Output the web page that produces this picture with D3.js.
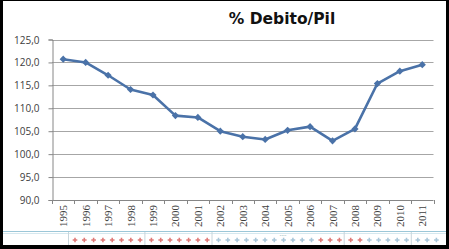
<!DOCTYPE html>
<html>
<head>
<meta charset="utf-8">
<title>% Debito/Pil</title>
<style>
body {
  margin: 0;
  background: #000;
}

svg {
  display: block;
}

.y.axis text {
  font: 10px "Open Sans", sans-serif;
  fill: #404040;
}

.x-label {
  font: 11px "Liberation Serif", serif;
  fill: #404040;
}

.title {
  font: bold 15.5px "DejaVu Sans", sans-serif;
  fill: #111;
}
</style>
<script src="https://d3js.org/d3.v7.min.js"></script>
</head>
<body>
<script>
const years = ['1995', '1996', '1997', '1998', '1999', '2000', '2001', '2002', '2003',
  '2004', '2005', '2006', '2007', '2008', '2009', '2010', '2011'];
const debt = [120.7, 120.0, 117.2, 114.1, 112.9, 108.4, 108.0, 105.0, 103.8,
  103.2, 105.2, 106.0, 102.9, 105.5, 115.4, 118.1, 119.5];
const yTicks = [90, 95, 100, 105, 110, 115, 120, 125];
// row of little marks under the chart, r = red, b = blue
const stripGroups = ['rrrrrrrr', 'rrrrrrr', 'bbbbbbbbbbbrrr', 'rrbbbbb', 'bbb'];

const width = 449,
  height = 249;

const svg = d3.select('body').append('svg')
  .attr('width', width)
  .attr('height', height);

// white sheet inside the black frame
svg.append('rect')
  .attr('x', 3)
  .attr('y', 1)
  .attr('width', 443)
  .attr('height', 244)
  .attr('fill', '#fff');

const x = d3.scaleBand()
  .domain(years)
  .range([52, 433.5]);

const y = d3.scaleLinear()
  .domain([90, 125])
  .range([200, 39.5]);

svg.append('text')
  .attr('class', 'title')
  .attr('x', 282)
  .attr('y', 24)
  .attr('text-anchor', 'middle')
  .text('% Debito/Pil');

// gridlines
svg.append('g')
  .selectAll('line')
  .data(yTicks.slice(1))
  .enter().append('line')
    .attr('x1', 52)
    .attr('x2', 433.5)
    .attr('y1', d => Math.round(y(d)) + 0.5)
    .attr('y2', d => Math.round(y(d)) + 0.5)
    .attr('stroke', '#a6a6a6');

const yAxis = svg.append('g')
  .attr('class', 'y axis')
  .attr('transform', 'translate(52.5,0)')
  .call(d3.axisLeft(y)
    .tickValues(yTicks)
    .tickSize(4)
    .tickPadding(9)
    .tickFormat(d => d3.format('.1f')(d).replace('.', ',')));
yAxis.selectAll('line, path').attr('stroke', '#868686');
yAxis.selectAll('text').attr('dy', '0.35em');

// x axis: baseline, ticks between categories, rotated labels
const xAxis = svg.append('g').attr('class', 'x axis');
xAxis.append('line')
  .attr('x1', 52)
  .attr('x2', 433.5)
  .attr('y1', 200.5)
  .attr('y2', 200.5)
  .attr('stroke', '#868686');

xAxis.selectAll('line.tick')
  .data(years.concat(['end']))
  .enter().append('line')
    .attr('class', 'tick')
    .attr('x1', d => Math.round(d === 'end' ? x.range()[1] : x(d)) + 0.5)
    .attr('x2', d => Math.round(d === 'end' ? x.range()[1] : x(d)) + 0.5)
    .attr('y1', 200)
    .attr('y2', 204)
    .attr('stroke', '#868686');

xAxis.selectAll('text')
  .data(years)
  .enter().append('text')
    .attr('class', 'x-label')
    .attr('transform', d => 'translate(' + (x(d) + x.bandwidth() / 2 + 4) + ',205) rotate(-90)')
    .attr('text-anchor', 'end')
    .text(d => d);

// data line
const line = d3.line()
  .x((d, i) => x(years[i]) + x.bandwidth() / 2)
  .y(d => y(d));

svg.append('path')
  .datum(debt)
  .attr('fill', 'none')
  .attr('stroke', '#4a72a8')
  .attr('stroke-width', 2.6)
  .attr('stroke-linejoin', 'round')
  .attr('d', line);

svg.append('g')
  .selectAll('path')
  .data(debt)
  .enter().append('path')
    .attr('transform', (d, i) => 'translate(' + (x(years[i]) + x.bandwidth() / 2) + ',' + y(d) + ')')
    .attr('d', d3.symbol(d3.symbolSquare, 26))
    .attr('transform', (d, i) => 'translate(' + (x(years[i]) + x.bandwidth() / 2) + ',' + y(d) + ') rotate(45)')
    .attr('fill', '#4a72a8');

// bottom strip
const strip = svg.append('g');
strip.append('line')
  .attr('x1', 3)
  .attr('x2', 446)
  .attr('y1', 231.5)
  .attr('y2', 231.5)
  .attr('stroke', '#9cc7d8');
strip.append('line')
  .attr('x1', 3)
  .attr('x2', 446)
  .attr('y1', 233.5)
  .attr('y2', 233.5)
  .attr('stroke', '#d5e8ef');

const step = 9.3;
let start = 68;
stripGroups.forEach(group => {
  strip.append('line')
    .attr('x1', start + 0.5)
    .attr('x2', start + 0.5)
    .attr('y1', 232)
    .attr('y2', 245)
    .attr('stroke', '#c8d6dc');
  group.split('').forEach((c, i) => {
    strip.append('path')
      .attr('transform', 'translate(' + (start + 7 + i * step) + ',240)')
      .attr('d', d3.symbol(d3.symbolCross, 12))
      .attr('fill', c === 'r' ? '#d9625f' : '#99bcd2')
      .attr('opacity', 0.85);
  });
  start += group.length * step + 2;
});

strip.append('text')
  .attr('x', 283)
  .attr('y', 236)
  .attr('text-anchor', 'middle')
  .attr('font-size', 7)
  .attr('fill', '#8aa')
  .text('....');
</script>
</body>
</html>
